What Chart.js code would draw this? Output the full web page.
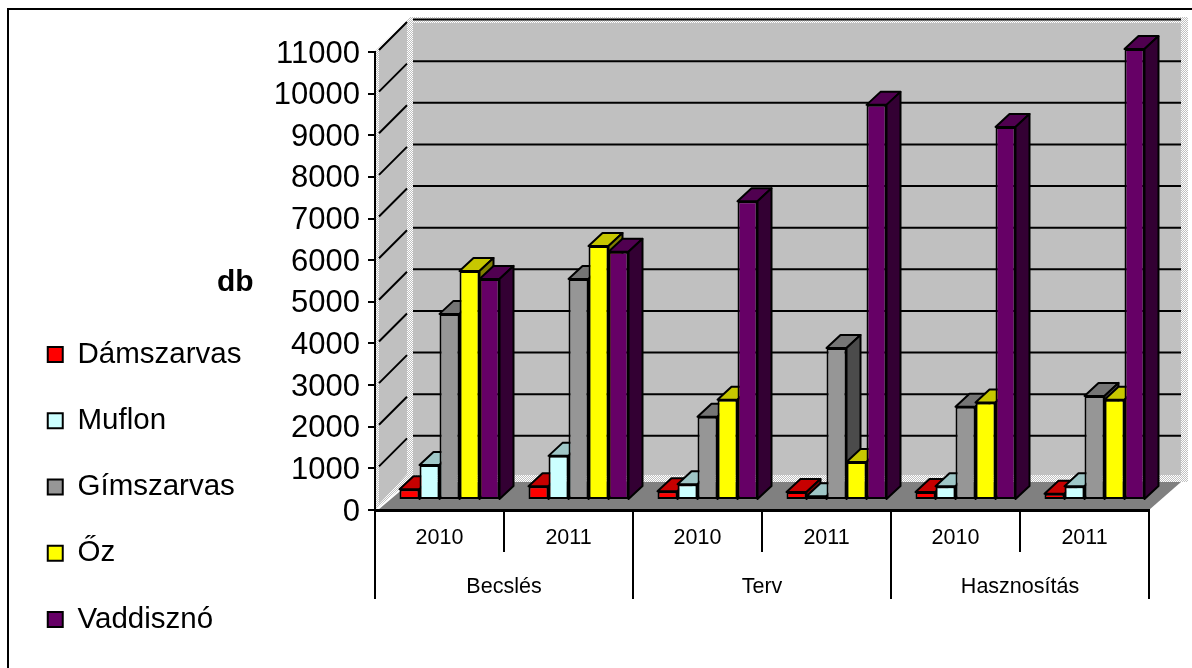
<!DOCTYPE html>
<html>
<head>
<meta charset="utf-8">
<style>
  html, body { margin: 0; padding: 0; background: #fff; overflow: hidden; }
  canvas { display: block; }
</style>
<script src="https://cdn.jsdelivr.net/npm/chart.js@4"></script>
</head>
<body>
<canvas id="mainChart" width="1192" height="668"></canvas>
<script>
const years = ['2010', '2011', '2010', '2011', '2010', '2011'];
const groups = ['Becslés', 'Terv', 'Hasznosítás'];
const damszarvas = [260, 330, 210, 190, 190, 150];
const muflon = [840, 1060, 380, 90, 330, 330];
const gimszarvas = [4470, 5310, 2000, 3650, 2240, 2500];
const oz = [5500, 6100, 2410, 915, 2340, 2410];
const vaddiszno = [5310, 5960, 7175, 9490, 8960, 10830];

const FONT = '"Liberation Sans", Arial, sans-serif';

// eltolas a 3D hatashoz: fal, oszlop sik, oszlop melyseg
const WALL = { dx: 33, dy: -32.5 };
const BAR_PLANE = { dx: 10, dy: -10 };
const BAR_DEPTH = { dx: 14, dy: -13 };

function shade(hex, f) {
    const n = parseInt(hex.slice(1), 16);
    const c = [n >> 16, (n >> 8) & 255, n & 255].map(v => Math.round(v * f));
    return `rgb(${c[0]},${c[1]},${c[2]})`;
}

function ditherPattern(ctx) {
    const p = document.createElement('canvas');
    p.width = p.height = 2;
    const c = p.getContext('2d');
    c.fillStyle = '#c0c0c0';
    c.fillRect(0, 0, 2, 2);
    c.fillStyle = '#ffffff';
    c.fillRect(0, 0, 1, 1);
    c.fillRect(1, 1, 1, 1);
    return ctx.createPattern(p, 'repeat');
}

function poly(ctx, pts, fill) {
    ctx.beginPath();
    pts.forEach((p, i) => i ? ctx.lineTo(p[0], p[1]) : ctx.moveTo(p[0], p[1]));
    ctx.closePath();
    ctx.fillStyle = fill;
    ctx.fill();
}

const wallsPlugin = {
    id: 'walls',
    beforeDraw(chart) {
        const { ctx, chartArea: a, scales: { y } } = chart;
        const y0 = y.getPixelForValue(0);
        const yTop = y.getPixelForValue(11000);
        const dither = ditherPattern(ctx);
        ctx.save();

        // keret
        ctx.strokeStyle = '#000';
        ctx.lineWidth = 2;
        ctx.strokeRect(8, 9, 1300, 900);

        // hatso fal es bal fal, pontozott szegellyel
        poly(ctx, [[a.left, yTop - 1], [a.left + 35, yTop - 35], [a.right + 39, yTop - 35], [a.right + 39, y0 - 28],
            [a.right + 32, y0 - 28], [a.left + 33, y0 - 28], [a.left, y0]], dither);
        poly(ctx, [[a.left + 38, yTop - 29], [a.right + 32, yTop - 29], [a.right + 32, y0 - 35], [a.left + 38, y0 - 35]], '#c0c0c0');
        poly(ctx, [[a.left + 4, yTop - 2], [a.left + 32, yTop - 29], [a.left + 32, y0 - 36], [a.left + 4, y0 - 6]], '#c0c0c0');

        // racsvonalak a falakon
        ctx.strokeStyle = '#000';
        ctx.lineWidth = 2;
        y.ticks.forEach(t => {
            const py = y.getPixelForValue(t.value);
            if (t.value === 0) return;
            ctx.beginPath();
            ctx.moveTo(a.left + 4, py - 2);
            ctx.lineTo(a.left + 32, py - 30);
            ctx.moveTo(a.left + 38, py + WALL.dy);
            ctx.lineTo(a.right + 32, py + WALL.dy);
            ctx.stroke();
        });

        // padlo
        poly(ctx, [[a.left + 3, y0], [a.right, y0], [a.right + 32, y0 - 28], [a.left + 36, y0 - 28]], '#808080');
        ctx.restore();
    },
    afterDraw(chart) {
        const { ctx } = chart;
        ctx.save();
        ctx.fillStyle = '#000';
        ctx.font = 'bold 30px ' + FONT;
        ctx.textAlign = 'left';
        ctx.textBaseline = 'middle';
        ctx.fillText('db', 217, 283);
        ctx.restore();
    }
};

const bars3dPlugin = {
    id: 'bars3d',
    // elobb minden oszlop teteje es oldala, utana a Chart.js rajzolja az elolapokat
    beforeDatasetsDraw(chart) {
        const { ctx } = chart;
        ctx.save();
        ctx.translate(BAR_PLANE.dx, BAR_PLANE.dy);
        ctx.strokeStyle = '#000';
        ctx.lineWidth = 2;
        ctx.lineJoin = 'round';
        const d = BAR_DEPTH;
        chart.getSortedVisibleDatasetMetas().forEach(meta => {
            const base = chart.data.datasets[meta.index].backgroundColor;
            meta.data.forEach(bar => {
                const l = bar.x - bar.width / 2, r = bar.x + bar.width / 2;
                const t = bar.y, b = bar.base;
                poly(ctx, [[l, t], [r, t], [r + d.dx, t + d.dy], [l + d.dx, t + d.dy]], shade(base, 0.78));
                ctx.stroke();
                poly(ctx, [[r, t], [r + d.dx, t + d.dy], [r + d.dx, b + d.dy], [r, b]], shade(base, 0.5));
                ctx.stroke();
            });
        });
    },
    afterDatasetsDraw(chart) {
        chart.ctx.restore();
    }
};

const makeSet = (label, data, color) => ({
    label, data,
    backgroundColor: color,
    borderColor: '#000',
    borderWidth: 2,
    borderSkipped: false,
    clip: false
});

new Chart(document.getElementById('mainChart'), {
    type: 'bar',
    data: {
        labels: years,
        datasets: [
            makeSet('Dámszarvas', damszarvas, '#ff0000'),
            makeSet('Muflon', muflon, '#ccffff'),
            makeSet('Gímszarvas', gimszarvas, '#969696'),
            makeSet('Őz', oz, '#ffff00'),
            makeSet('Vaddisznó', vaddiszno, '#660066')
        ]
    },
    plugins: [wallsPlugin, bars3dPlugin],
    options: {
        responsive: false,
        animation: false,
        devicePixelRatio: 1,
        layout: { padding: { left: 11, right: 43, top: 52, bottom: -3 } },
        datasets: { bar: { barPercentage: 1, categoryPercentage: 100 / 129 } },
        plugins: {
            tooltip: { enabled: false },
            legend: {
                position: 'left',
                align: 'end',
                labels: {
                    boxWidth: 15,
                    boxHeight: 15,
                    padding: 36.75,
                    color: '#000',
                    font: { family: FONT, size: 29.5 }
                }
            }
        },
        scales: {
            y: {
                min: 0,
                max: 11000,
                afterFit(s) { s.width = 375 - 11 - s.chart.legend.width; },
                ticks: {
                    stepSize: 1000,
                    color: '#000',
                    padding: 8,
                    labelOffset: 2,
                    autoSkip: false,
                    font: { family: FONT, size: 31 },
                    callback: v => String(v)
                },
                border: { display: true, color: '#000', width: 2 },
                grid: { drawOnChartArea: false, color: '#000', lineWidth: 2, tickLength: 7 }
            },
            x: {
                offset: true,
                afterFit(s) { s.height = 42; },
                ticks: {
                    color: '#000',
                    padding: -27,
                    maxRotation: 0,
                    font: { family: FONT, size: 21.5 }
                },
                border: { display: true, color: '#000', width: 3 },
                grid: { drawOnChartArea: false, color: '#000', lineWidth: 2, tickLength: 42 }
            },
            x2: {
                type: 'category',
                labels: groups,
                offset: true,
                position: 'bottom',
                weight: 1,
                afterFit(s) { s.height = 119; },
                ticks: {
                    color: '#000',
                    padding: -25,
                    maxRotation: 0,
                    font: { family: FONT, size: 21.5 }
                },
                border: { display: false },
                grid: { drawOnChartArea: false, color: '#000', lineWidth: 2, tickLength: 47 }
            }
        }
    }
});
</script>
</body>
</html>
